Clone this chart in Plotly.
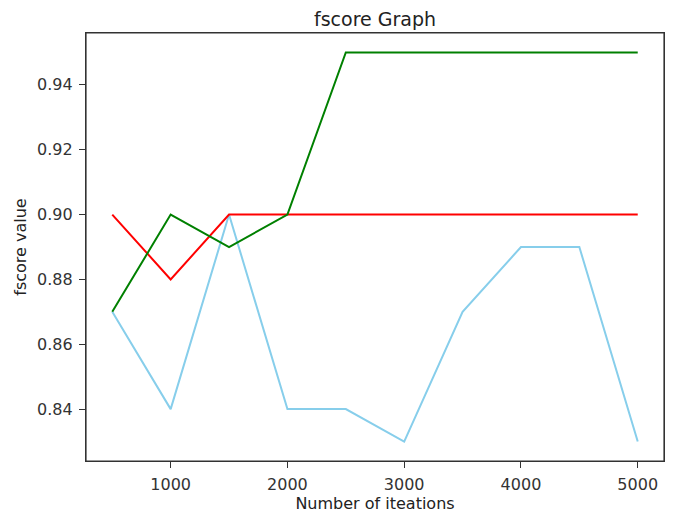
import plotly.graph_objects as go

iterations = [500, 1000, 1500, 2000, 2500, 3000, 3500, 4000, 4500, 5000]
red_vals = [0.90, 0.88, 0.90, 0.90, 0.90, 0.90, 0.90, 0.90, 0.90, 0.90]
green_vals = [0.87, 0.90, 0.89, 0.90, 0.95, 0.95, 0.95, 0.95, 0.95, 0.95]
blue_vals = [0.87, 0.84, 0.90, 0.84, 0.84, 0.83, 0.87, 0.89, 0.89, 0.83]
x_ticks = [1000, 2000, 3000, 4000, 5000]
y_ticks = [0.84, 0.86, 0.88, 0.90, 0.92, 0.94]

fig = go.Figure()
fig.add_trace(go.Scatter(x=iterations, y=blue_vals, mode="lines",
                         line=dict(color="#87CEEB", width=2)))
fig.add_trace(go.Scatter(x=iterations, y=red_vals, mode="lines",
                         line=dict(color="red", width=2)))
fig.add_trace(go.Scatter(x=iterations, y=green_vals, mode="lines",
                         line=dict(color="green", width=2)))

font = "DejaVu Sans"
axis_common = dict(showline=True, linecolor="#333", linewidth=1.2, mirror=True,
                   showgrid=False, zeroline=False, ticks="outside", ticklen=6,
                   tickcolor="#333", automargin=False, ticklabelstandoff=3,
                   tickfont=dict(family=font, size=16, color="#333"))

W, H = 665, 506
L, R, T, B = 78, 9, 25, 53

fig.update_layout(
    width=W, height=H,
    margin=dict(l=L, r=R, t=T, b=B, autoexpand=False),
    paper_bgcolor="white", plot_bgcolor="white",
    showlegend=False,
    title=dict(text="fscore Graph", x=(L + (W - R)) / 2 / W, xanchor="center",
               y=1 - 11.5 / H, yanchor="middle",
               font=dict(family=font, size=19, color="#222")),
    xaxis=dict(range=[275, 5225], tickvals=x_ticks,
               title=dict(text="Number of iteations", font=dict(family=font, size=16, color="#222"), standoff=2),
               **axis_common),
    yaxis=dict(range=[0.824, 0.956], tickvals=y_ticks, tickformat=".2f",
               title=dict(text="fscore value", font=dict(family=font, size=16, color="#222"), standoff=6),
               **axis_common),
    shapes=[dict(type="rect", xref="paper", yref="paper", x0=0, y0=0, x1=1, y1=1,
                 line=dict(color="#333", width=1.2), layer="above")],
)

fig.write_html("out.html")
